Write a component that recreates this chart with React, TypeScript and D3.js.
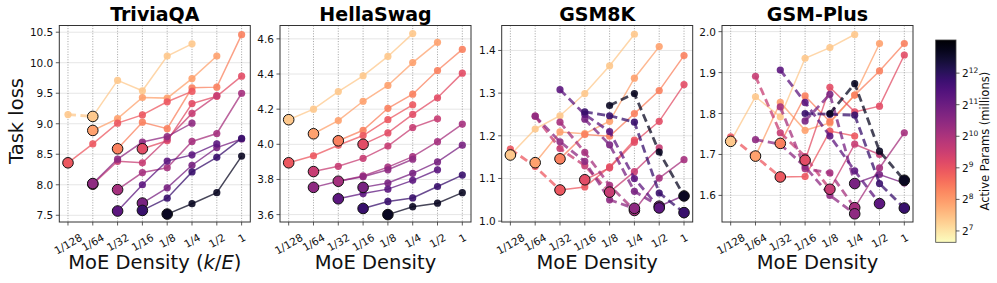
import React, { useEffect, useRef } from 'react';
import * as d3 from 'd3';

// densities k/E on the x axis
const densityLabels = ['1/128', '1/64', '1/32', '1/16', '1/8', '1/4', '1/2', '1'];
const densities = [1 / 128, 1 / 64, 1 / 32, 1 / 16, 1 / 8, 1 / 4, 1 / 2, 1];

// one line per active-param size (millions), and the density index where it starts
const activeParams = [165, 240, 320, 480, 560, 760, 1100, 1400, 1800, 2400, 3600, 6400];
const seriesStart = [0, 1, 2, 0, 3, 1, 2, 1, 3, 2, 3, 4];

const triviaqaLoss = [
  [9.15, 9.12, 9.71, 9.54, 10.11, 10.31],
  [8.89, 9.085, 9.43, 9.42, 9.74, 10.11],
  [8.59, 9.025, 8.92, 9.59, 9.6, 10.46],
  [8.36, 8.67, 9.01, 9.145, 9.36, 9.53],
  [8.59, 8.72, 9.33, 9.45, 9.78],
  [8.01, 8.385, 8.36, 8.75, 9.17, 9.46],
  [7.92, 8.2, 8.28, 8.71, 8.84, 9.5],
  [8.02, 8.42, 8.7, 8.79, 9.01],
  [7.7, 7.95, 8.32, 8.61, 8.75],
  [7.57, 8.0, 8.39, 8.49, 8.67],
  [7.58, 7.78, 8.21, 8.45, 8.76],
  [7.52, 7.69, 7.87, 8.47],
];

const hellaswagLoss = [
  [4.14, 4.2, 4.3, 4.39, 4.5, 4.63],
  [4.06, 4.135, 4.245, 4.335, 4.465, 4.58],
  [4.02, 4.08, 4.205, 4.285, 4.42, 4.54],
  [3.895, 3.935, 3.995, 4.05, 4.14, 4.225],
  [4.0, 4.065, 4.17, 4.265, 4.405],
  [3.845, 3.875, 3.92, 3.99, 4.095, 4.145],
  [3.79, 3.82, 3.87, 3.93, 4.015, 4.115],
  [3.755, 3.79, 3.815, 3.855, 3.915],
  [3.755, 3.78, 3.835, 3.9, 3.995],
  [3.69, 3.72, 3.745, 3.795, 3.855],
  [3.635, 3.675, 3.695, 3.76, 3.825],
  [3.6, 3.645, 3.665, 3.725],
];

const gsm8kLoss = [
  [1.155, 1.216, 1.247, 1.299, 1.364, 1.438],
  [1.137, 1.209, 1.205, 1.234, 1.335, 1.409],
  [1.146, 1.203, 1.199, 1.252, 1.306, 1.388],
  [1.169, 1.128, 1.073, 1.08, 1.127, 1.19],
  [1.097, 1.125, 1.185, 1.234, 1.32],
  [1.246, 1.17, 1.13, 1.068, 1.116, 1.172],
  [1.232, 1.161, 1.084, 1.025, 1.101, 1.144],
  [1.246, 1.186, 1.14, 1.05, 1.03],
  [1.239, 1.179, 1.07, 1.035, 1.06],
  [1.308, 1.25, 1.21, 1.1, 1.031],
  [1.256, 1.247, 1.232, 1.066, 1.02],
  [1.271, 1.299, 1.162, 1.059],
];

const gsmplusLoss = [
  [1.732, 1.841, 1.792, 1.935, 1.961, 1.993],
  [1.696, 1.827, 1.759, 1.777, 1.845, 1.971],
  [1.727, 1.843, 1.78, 1.845, 1.904, 1.971],
  [1.743, 1.695, 1.645, 1.646, 1.757, 1.745],
  [1.686, 1.864, 1.804, 1.818, 1.943],
  [1.891, 1.753, 1.695, 1.615, 1.725, 1.7],
  [1.816, 1.665, 1.655, 1.57, 1.667, 1.753],
  [1.736, 1.725, 1.67, 1.6, 1.555],
  [1.782, 1.847, 1.629, 1.651, 1.63],
  [1.906, 1.827, 1.745, 1.66, 1.58],
  [1.8, 1.798, 1.796, 1.629, 1.569],
  [1.8, 1.873, 1.708, 1.637],
];

const triviaqaTicks = [7.5, 8.0, 8.5, 9.0, 9.5, 10.0, 10.5];
const hellaswagTicks = [3.6, 3.8, 4.0, 4.2, 4.4, 4.6];
const gsm8kTicks = [1.0, 1.1, 1.2, 1.3, 1.4];
const gsmplusTicks = [1.6, 1.7, 1.8, 1.9, 2.0];
const colorbarExponents = [7, 8, 9, 10, 11, 12];

const panels = [
  { title: 'TriviaQA', loss: triviaqaLoss, ticks: triviaqaTicks, yDomain: [7.39, 10.61], left: 59.3 },
  { title: 'HellaSwag', loss: hellaswagLoss, ticks: hellaswagTicks, yDomain: [3.558, 4.676], left: 280 },
  { title: 'GSM8K', loss: gsm8kLoss, ticks: gsm8kTicks, yDomain: [0.998, 1.4585], left: 501.7 },
  { title: 'GSM-Plus', loss: gsmplusLoss, ticks: gsmplusTicks, yDomain: [1.535, 2.015], left: 722 },
];

const W = 997;
const H = 283;
const plotTop = 25.5;
const plotBottom = 222;
const plotWidth = 191;
const font = 'DejaVu Sans, sans-serif';

// colour bar range in log2(millions)
const cLo = 6.64;
const cHi = 13.05;
const colour = (a: number) => d3.interpolateMagma(1 - (Math.log2(a) - cLo) / (cHi - cLo));

// rough DejaVu widths, to place the rotated tick labels
const charW = (s: string) => s.split('').reduce((acc, c) => acc + (c === '/' ? 0.337 : 0.636), 0);

function drawPanel(svg: any, panel: any, pi: number) {
  const x = d3.scaleLog().base(2).domain([2 ** -7.35, 2 ** 0.35]).range([panel.left, panel.left + plotWidth]);
  const y = d3.scaleLinear().domain(panel.yDomain).range([plotBottom, plotTop]);
  const g = svg.append('g');

  // horizontal grid (light, solid)
  g.selectAll('.hgrid').data(panel.ticks).enter().append('line')
    .attr('x1', panel.left).attr('x2', panel.left + plotWidth)
    .attr('y1', (d: number) => y(d)).attr('y2', (d: number) => y(d))
    .attr('stroke', '#e6e6e6').attr('stroke-width', 1);

  // vertical grid (dotted)
  g.selectAll('.vgrid').data(densities).enter().append('line')
    .attr('x1', (d: number) => x(d)).attr('x2', (d: number) => x(d))
    .attr('y1', plotTop).attr('y2', plotBottom)
    .attr('stroke', '#8a8a8a').attr('stroke-width', 0.8).attr('stroke-dasharray', '1,1.6');

  const line = d3.line<any>().x((p) => x(p.d)).y((p) => y(p.v));

  const bigs: any[] = [];

  panel.loss.forEach((vals: number[], s: number) => {
    const c = colour(activeParams[s]);
    const pts = vals.map((v, k) => ({ d: densities[seriesStart[s] + k], v, c }));
    const minK = d3.minIndex(vals);
    // dashed up to the best density, solid after it
    if (minK > 0) {
      g.append('path').attr('d', line(pts.slice(0, minK + 1)))
        .attr('fill', 'none').attr('stroke', c).attr('stroke-width', 2.8)
        .attr('stroke-dasharray', '8,4.5').attr('opacity', 0.75);
    }
    if (minK < pts.length - 1) {
      g.append('path').attr('d', line(pts.slice(minK)))
        .attr('fill', 'none').attr('stroke', c).attr('stroke-width', 1.5).attr('opacity', 0.75);
    }
    bigs.push(pts[minK]);
    g.selectAll(null).data(pts.filter((p, k) => k !== minK)).enter().append('circle')
      .attr('cx', (p: any) => x(p.d)).attr('cy', (p: any) => y(p.v)).attr('r', 3.6)
      .attr('fill', c).attr('opacity', 0.9);
  });

  g.selectAll('.big').data(bigs).enter().append('circle')
    .attr('cx', (p: any) => x(p.d)).attr('cy', (p: any) => y(p.v)).attr('r', 5.3)
    .attr('fill', (p: any) => p.c).attr('stroke', '#111').attr('stroke-width', 1);

  // frame
  g.append('rect').attr('x', panel.left).attr('y', plotTop)
    .attr('width', plotWidth).attr('height', plotBottom - plotTop)
    .attr('fill', 'none').attr('stroke', '#333').attr('stroke-width', 1);

  // y ticks
  g.selectAll('.ytick').data(panel.ticks).enter().append('line')
    .attr('x1', panel.left - 3.5).attr('x2', panel.left)
    .attr('y1', (d: number) => y(d)).attr('y2', (d: number) => y(d))
    .attr('stroke', '#333').attr('stroke-width', 0.8);
  g.selectAll('.ylab').data(panel.ticks).enter().append('text')
    .attr('x', panel.left - 6).attr('y', (d: number) => y(d))
    .attr('text-anchor', 'end').attr('dominant-baseline', 'central')
    .attr('font-family', font).attr('font-size', 10.5).attr('fill', '#111')
    .text((d: number) => d.toFixed(1));

  // x ticks
  g.selectAll('.xtick').data(densities).enter().append('line')
    .attr('x1', (d: number) => x(d)).attr('x2', (d: number) => x(d))
    .attr('y1', plotBottom).attr('y2', plotBottom + 3.5)
    .attr('stroke', '#333').attr('stroke-width', 0.8);
  const fs = 10.5;
  g.selectAll('.xlab').data(densityLabels).enter().append('text')
    .attr('transform', (lab: string, k: number) => {
      const w = charW(lab) * fs;
      const hh = w * 0.5 + fs * 1.16 * 0.866;
      return `translate(${x(densities[k])},${231 + hh / 2}) rotate(-30)`;
    })
    .attr('text-anchor', 'middle').attr('dominant-baseline', 'central')
    .attr('font-family', font).attr('font-size', fs).attr('fill', '#111')
    .text((lab: string) => lab);

  // title
  g.append('text').attr('x', panel.left + plotWidth / 2).attr('y', 21)
    .attr('text-anchor', 'middle').attr('font-family', font).attr('font-weight', 'bold')
    .attr('font-size', 19).attr('fill', '#000').text(panel.title);

  // x label
  const xl = g.append('text').attr('x', panel.left + plotWidth / 2).attr('y', 269)
    .attr('text-anchor', 'middle').attr('font-family', font).attr('font-size', 19.5).attr('fill', '#111');
  xl.append('tspan').text('MoE Density');
  if (pi === 0) {
    xl.append('tspan').text(' (');
    xl.append('tspan').attr('font-style', 'italic').text('k');
    xl.append('tspan').text('/');
    xl.append('tspan').attr('font-style', 'italic').text('E');
    xl.append('tspan').text(')');
  }
}

function drawColorbar(svg: any) {
  const x0 = 935.7;
  const x1 = 956;
  const top = 40;
  const bottom = 242.3;
  const yc = d3.scaleLinear().domain([cLo, cHi]).range([bottom, top]);

  const grad = svg.append('defs').append('linearGradient').attr('id', 'cbar')
    .attr('x1', 0).attr('y1', 1).attr('x2', 0).attr('y2', 0);
  d3.range(0, 1.0001, 0.05).forEach((t) => {
    grad.append('stop').attr('offset', t).attr('stop-color', d3.interpolateMagma(1 - t));
  });
  svg.append('rect').attr('x', x0).attr('y', top).attr('width', x1 - x0).attr('height', bottom - top)
    .attr('fill', 'url(#cbar)').attr('stroke', '#444').attr('stroke-width', 0.8);

  svg.selectAll('.ctick').data(colorbarExponents).enter().append('line')
    .attr('x1', x1).attr('x2', x1 + 3.5)
    .attr('y1', (e: number) => yc(e)).attr('y2', (e: number) => yc(e))
    .attr('stroke', '#333').attr('stroke-width', 0.8);

  const labs = svg.selectAll('.clab').data(colorbarExponents).enter().append('text')
    .attr('x', x1 + 6).attr('y', (e: number) => yc(e) + 4)
    .attr('font-family', font).attr('font-size', 10.5).attr('fill', '#111');
  labs.append('tspan').text('2');
  labs.append('tspan').attr('dy', -4.5).attr('font-size', 7.5).text((e: number) => String(e));

  svg.append('text').attr('transform', `translate(989,${(top + bottom) / 2}) rotate(-90)`)
    .attr('text-anchor', 'middle').attr('font-family', font).attr('font-size', 11.5).attr('fill', '#111')
    .text('Active Params (millions)');
}

export default function App() {
  const ref = useRef<SVGSVGElement>(null);

  useEffect(() => {
    const svg = d3.select(ref.current);
    svg.selectAll('*').remove();
    svg.append('rect').attr('width', W).attr('height', H).attr('fill', '#fff');
    panels.forEach((p, i) => drawPanel(svg, p, i));
    drawColorbar(svg);

    svg.append('text').attr('transform', 'translate(23,121) rotate(-90)')
      .attr('text-anchor', 'middle').attr('font-family', font).attr('font-size', 19.5).attr('fill', '#111')
      .text('Task loss');
  }, []);

  return (
    <svg ref={ref} width={W} height={H}
      style={{ position: 'absolute', left: 0, top: 0, display: 'block' }} />
  );
}
